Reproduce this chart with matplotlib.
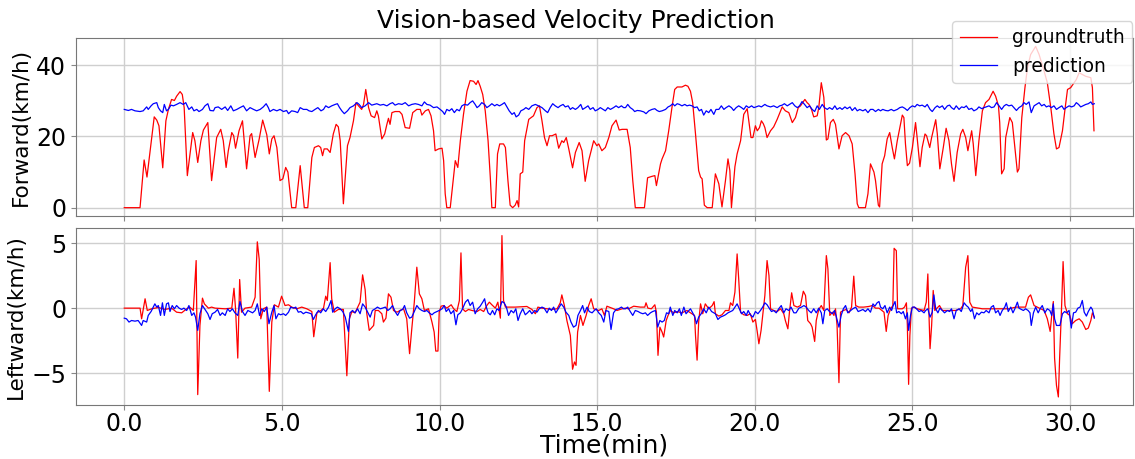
import numpy as np
import matplotlib
matplotlib.use('Agg')
import matplotlib.pyplot as plt
from matplotlib.ticker import FormatStrFormatter

# ---- forward velocity, groundtruth (time in min, km/h)
t_fwd_gt = [0.00, 0.50, 0.63, 0.72, 0.95, 1.03, 1.10, 1.22, 1.32, 1.40, 1.50, 1.59, 1.66, 1.77, 1.84, 1.90,
            2.00, 2.17, 2.24, 2.33, 2.43, 2.51, 2.65, 2.77, 2.93, 3.06, 3.14, 3.23, 3.30, 3.41, 3.47, 3.53,
            3.64, 3.75, 3.88, 3.99, 4.04, 4.15, 4.28, 4.39, 4.52, 4.60, 4.68, 4.75, 4.84, 4.94, 5.03, 5.12,
            5.19, 5.31, 5.44, 5.58, 5.71, 5.82, 5.95, 6.03, 6.16, 6.23, 6.29, 6.34, 6.44, 6.53, 6.63, 6.72,
            6.79, 6.85, 6.95, 7.08, 7.16, 7.27, 7.35, 7.43, 7.53, 7.59, 7.66, 7.75, 7.83, 7.94, 8.01, 8.06,
            8.17, 8.26, 8.33, 8.38, 8.43, 8.49, 8.59, 8.73, 8.81, 8.91, 9.05, 9.15, 9.28, 9.39, 9.44, 9.55,
            9.65, 9.73, 9.81, 9.86, 9.97, 10.08, 10.13, 10.18, 10.23, 10.34, 10.41, 10.50, 10.58, 10.66,
            10.76, 10.87, 10.97, 11.08, 11.16, 11.22, 11.29, 11.37, 11.45, 11.54, 11.61, 11.66, 11.77,
            11.84, 11.91, 12.03, 12.09, 12.17, 12.24, 12.32, 12.40, 12.46, 12.51, 12.56, 12.64, 12.70,
            12.83, 12.98, 13.09, 13.17, 13.25, 13.33, 13.41, 13.49, 13.57, 13.69, 13.78, 13.88, 13.94,
            14.02, 14.10, 14.22, 14.31, 14.43, 14.52, 14.62, 14.73, 14.89, 14.99, 15.05, 15.15, 15.26,
            15.37, 15.47, 15.60, 15.70, 15.79, 15.95, 16.05, 16.13, 16.21, 16.50, 16.60, 16.74, 16.83,
            16.88, 17.01, 17.06, 17.17, 17.27, 17.38, 17.46, 17.54, 17.69, 17.80, 17.88, 17.96, 18.03,
            18.12, 18.22, 18.28, 18.33, 18.40, 18.49, 18.65, 18.75, 18.86, 18.96, 19.07, 19.15, 19.21,
            19.26, 19.37, 19.44, 19.55, 19.65, 19.76, 19.81, 19.88, 19.94, 20.02, 20.08, 20.15, 20.21,
            20.27, 20.32, 20.39, 20.50, 20.60, 20.71, 20.87, 20.97, 21.08, 21.19, 21.29, 21.38, 21.45,
            21.59, 21.66, 21.72, 21.80, 21.87, 21.98, 22.03, 22.11, 22.19, 22.27, 22.32, 22.40, 22.49,
            22.56, 22.67, 22.77, 22.88, 22.99, 23.09, 23.18, 23.25, 23.30, 23.51, 23.59, 23.67, 23.78,
            23.83, 23.92, 23.96, 24.04, 24.12, 24.20, 24.28, 24.36, 24.43, 24.52, 24.59, 24.68, 24.73,
            24.78, 24.84, 24.91, 25.00, 25.10, 25.15, 25.24, 25.31, 25.40, 25.45, 25.55, 25.61, 25.74,
            25.79, 25.87, 25.98, 26.07, 26.16, 26.24, 26.32, 26.42, 26.53, 26.60, 26.69, 26.76, 26.88,
            26.93, 27.01, 27.11, 27.22, 27.32, 27.43, 27.56, 27.64, 27.73, 27.77, 27.83, 27.91, 27.96,
            28.09, 28.17, 28.26, 28.33, 28.38, 28.47, 28.57, 28.65, 28.75, 28.91, 29.02, 29.18, 29.28,
            29.39, 29.49, 29.57, 29.65, 29.76, 29.84, 29.92, 30.02, 30.13, 30.20, 30.29, 30.39, 30.50,
            30.66, 30.71, 30.76]
v_fwd_gt = [0, 0, 13.4, 8.6, 25.5, 24.6, 23.0, 11.2, 24.4, 27.6, 30.4, 30.1, 31.3, 32.6, 31.8, 28.1,
            9.0, 21.1, 18.8, 12.7, 18.8, 21.8, 23.9, 7.6, 19.7, 22.0, 18.8, 11.3, 16.0, 21.1, 20.2, 16.7,
            21.6, 24.4, 10.9, 20.2, 20.8, 14.1, 19.3, 24.6, 20.5, 15.1, 19.3, 20.2, 16.9, 7.6, 8.1, 11.3,
            10.0, 0, 0, 11.8, 0, 0, 14.1, 16.9, 17.4, 16.9, 14.6, 16.5, 16.5, 15.5, 20.7, 23.4,
            22.7, 18.8, 1.1, 17.4, 19.7, 24.4, 29.5, 28.6, 27.6, 29.0, 33.2, 28.1, 25.8, 25.3, 27.2, 25.8,
            19.3, 20.7, 23.4, 25.1, 23.4, 26.7, 27.0, 27.0, 26.2, 22.5, 22.3, 26.7, 27.6, 27.6, 26.0, 27.2,
            27.6, 25.8, 21.6, 16.0, 16.5, 16.7, 13.2, 3.9, 0, 0, 5.8, 13.2, 11.3, 18.8,
            26.2, 32.7, 35.7, 35.5, 34.6, 35.7, 34.1, 31.8, 27.2, 18.8, 8.6, 0, 0,
            15.1, 17.9, 17.9, 16.9, 7.6, 0.7, 0, 0.7, 2.0, 0.2, 9.5, 10.0, 18.8,
            24.8, 25.8, 28.1, 28.6, 24.4, 19.7, 17.4, 20.2, 20.2, 20.7, 16.7, 18.8, 18.3,
            19.7, 16.5, 11.2, 15.5, 18.3, 16.0, 7.4, 13.2, 18.8, 17.4, 17.9, 16.0, 16.9,
            19.7, 23.0, 24.6, 21.8, 22.0, 22.0, 16.9, 7.6, 0, 0, 8.4, 8.8, 9.0,
            6.2, 12.3, 13.7, 16.0, 21.6, 28.6, 33.2, 33.9, 33.9, 34.4, 34.1, 32.7, 29.5,
            20.7, 10.4, 8.6, 8.1, 0.7, 0, 0, 9.5, 6.7, 0.2, 7.6, 13.7, 10.4,
            0, 11.5, 15.1, 18.8, 26.2, 27.8, 24.4, 19.7, 19.7, 23.0, 21.6, 22.5, 24.4,
            23.6, 22.5, 19.7, 21.6, 22.7, 24.8, 28.3, 27.2, 26.7, 23.9, 25.3, 28.1, 28.6,
            30.4, 29.5, 29.0, 27.6, 25.5, 25.8, 28.1, 35.1, 31.0, 19.0, 19.3, 23.9, 24.8,
            23.4, 16.5, 20.2, 21.1, 20.2, 17.9, 9.5, 1.1, 0, 0, 3.9, 12.3, 10.0,
            7.6, 0.7, 0.2, 12.3, 14.6, 19.3, 21.1, 16.9, 13.7, 18.8, 22.0, 26.0, 25.3,
            17.9, 11.8, 12.5, 16.9, 23.9, 19.7, 11.5, 16.9, 20.7, 20.2, 16.9, 19.7, 24.7,
            20.7, 10.9, 16.9, 22.3, 18.8, 12.3, 7.4, 15.5, 20.7, 22.0, 19.7, 16.0, 21.6,
            17.9, 9.0, 18.8, 27.2, 29.5, 30.4, 32.7, 31.3, 28.6, 23.9, 9.5, 10.9, 19.7,
            25.3, 23.9, 16.0, 10.0, 10.9, 25.3, 33.7, 39.3, 43.0, 45.3, 43.0, 38.3, 35.1,
            28.1, 20.7, 16.5, 16.9, 21.6, 27.6, 33.2, 33.7, 35.1, 36.0, 37.9, 37.4, 36.9,
            36.5, 33.7, 21.6]

# ---- forward velocity, prediction
t_fwd_pr = [0.00, 0.13, 0.23, 0.34, 0.50, 0.60, 0.71, 0.76, 0.85, 0.92, 1.03, 1.08, 1.15, 1.22, 1.27, 1.34,
            1.40, 1.48, 1.56, 1.66, 1.77, 1.87, 1.95, 2.05, 2.14, 2.21, 2.30, 2.37, 2.48, 2.56, 2.65, 2.72,
            2.83, 2.88, 2.98, 3.09, 3.20, 3.28, 3.38, 3.46, 3.57, 3.67, 3.78, 3.88, 3.99, 4.10, 4.20, 4.31,
            4.41, 4.50, 4.57, 4.62, 4.73, 4.84, 4.94, 5.05, 5.15, 5.21, 5.31, 5.42, 5.50, 5.58, 5.68, 5.79,
            5.86, 5.95, 6.05, 6.14, 6.24, 6.32, 6.39, 6.48, 6.58, 6.69, 6.76, 6.83, 6.90, 6.98, 7.08, 7.16,
            7.27, 7.38, 7.45, 7.53, 7.64, 7.75, 7.85, 8.01, 8.12, 8.22, 8.33, 8.43, 8.51, 8.59, 8.70, 8.81,
            8.91, 9.02, 9.12, 9.23, 9.33, 9.44, 9.52, 9.60, 9.70, 9.81, 9.92, 10.02, 10.10, 10.16, 10.23,
            10.31, 10.39, 10.47, 10.55, 10.63, 10.71, 10.79, 10.89, 10.97, 11.05, 11.13, 11.19, 11.26,
            11.34, 11.43, 11.50, 11.58, 11.66, 11.75, 11.82, 11.90, 11.98, 12.06, 12.14, 12.21, 12.30,
            12.37, 12.43, 12.51, 12.58, 12.67, 12.74, 12.83, 12.93, 13.04, 13.14, 13.25, 13.36, 13.43,
            13.51, 13.59, 13.67, 13.76, 13.83, 13.92, 13.99, 14.08, 14.15, 14.22, 14.31, 14.39, 14.48,
            14.54, 14.63, 14.71, 14.78, 14.87, 14.94, 15.03, 15.10, 15.19, 15.26, 15.34, 15.42, 15.52,
            15.60, 15.68, 15.77, 15.84, 15.90, 15.97, 16.05, 16.13, 16.19, 16.27, 16.37, 16.48, 16.55,
            16.64, 16.74, 16.83, 16.90, 16.97, 17.06, 17.17, 17.25, 17.32, 17.40, 17.46, 17.54, 17.61,
            17.69, 17.78, 17.85, 17.93, 18.01, 18.09, 18.17, 18.24, 18.31, 18.38, 18.46, 18.54, 18.61,
            18.70, 18.77, 18.86, 18.94, 19.02, 19.09, 19.18, 19.26, 19.33, 19.41, 19.49, 19.58, 19.65,
            19.73, 19.81, 19.90, 19.97, 20.04, 20.13, 20.21, 20.32, 20.39, 20.50, 20.60, 20.71, 20.79,
            20.87, 20.94, 21.03, 21.10, 21.19, 21.27, 21.35, 21.42, 21.50, 21.58, 21.66, 21.74, 21.82,
            21.90, 21.98, 22.05, 22.14, 22.21, 22.30, 22.37, 22.46, 22.54, 22.61, 22.70, 22.77, 22.86,
            22.93, 23.02, 23.09, 23.18, 23.25, 23.33, 23.43, 23.51, 23.59, 23.67, 23.75, 23.83, 23.92,
            23.99, 24.06, 24.15, 24.23, 24.33, 24.41, 24.52, 24.60, 24.68, 24.76, 24.84, 24.92, 25.00,
            25.08, 25.15, 25.23, 25.31, 25.40, 25.47, 25.56, 25.63, 25.72, 25.79, 25.86, 25.95, 26.02,
            26.11, 26.18, 26.24, 26.32, 26.39, 26.48, 26.56, 26.64, 26.71, 26.79, 26.88, 26.95, 27.04,
            27.11, 27.20, 27.27, 27.34, 27.43, 27.51, 27.59, 27.67, 27.75, 27.83, 27.91, 27.98, 28.06,
            28.15, 28.22, 28.30, 28.38, 28.47, 28.54, 28.61, 28.70, 28.77, 28.86, 28.93, 29.02, 29.10,
            29.18, 29.25, 29.33, 29.41, 29.49, 29.57, 29.65, 29.74, 29.81, 29.88, 29.97, 30.05, 30.13,
            30.20, 30.27, 30.34, 30.41, 30.50, 30.58, 30.66, 30.71, 30.77]
v_fwd_pr = [27.6, 27.3, 27.6, 27.2, 27.0, 27.2, 28.3, 27.6, 28.6, 29.2, 29.5, 28.1, 27.2, 26.7, 29.0, 27.2,
            27.6, 28.8, 28.6, 29.0, 29.5, 29.0, 29.5, 27.6, 28.3, 27.2, 27.6, 27.0, 27.6, 28.6, 29.2, 27.3,
            27.2, 28.1, 28.3, 27.6, 28.3, 27.3, 28.6, 27.2, 27.6, 28.1, 28.6, 27.2, 28.1, 27.6, 27.2, 27.6,
            28.3, 29.2, 28.1, 27.0, 27.6, 27.2, 27.6, 27.0, 27.3, 26.4, 27.2, 27.0, 26.7, 28.1, 27.6, 27.6,
            27.2, 27.0, 27.6, 28.1, 27.2, 27.6, 28.6, 28.1, 28.6, 29.0, 29.2, 28.1, 27.2, 26.4, 27.2, 28.1,
            28.6, 29.5, 29.0, 28.1, 28.6, 29.5, 28.8, 29.2, 28.8, 29.0, 28.6, 29.2, 29.5, 28.8, 29.2, 29.0,
            29.5, 28.6, 29.0, 29.2, 29.0, 28.6, 29.7, 29.0, 28.8, 28.1, 28.3, 27.6, 27.0, 26.2, 27.6,
            27.2, 27.8, 26.7, 27.6, 27.2, 28.6, 29.0, 28.8, 29.5, 30.0, 29.0, 28.1, 28.6,
            29.5, 29.0, 28.1, 28.6, 29.2, 28.6, 29.0, 28.6, 29.0, 29.5, 28.3, 27.2, 26.2,
            26.7, 25.5, 26.0, 27.2, 27.6, 28.1, 27.6, 28.6, 29.0, 28.6, 28.1, 27.2, 26.7,
            28.1, 29.2, 28.6, 28.1, 28.6, 29.0, 28.3, 28.6, 27.6, 28.1, 27.6, 28.1, 29.0,
            27.6, 28.1, 28.6, 27.6, 28.1, 27.2, 27.6, 28.1, 27.6, 27.2, 28.1, 27.6, 28.1,
            28.6, 28.1, 28.6, 28.1, 28.1, 29.0, 28.1, 27.6, 27.0, 27.3, 27.2, 26.9, 26.4,
            27.2, 27.6, 27.8, 27.3, 27.0, 27.2, 27.6, 28.3, 28.6, 29.2, 28.6, 29.2, 29.0,
            28.6, 29.0, 28.6, 28.8, 28.6, 28.1, 28.3, 27.2, 27.6, 26.0, 27.2, 26.7, 27.6,
            26.2, 27.6, 27.6, 28.6, 27.6, 28.1, 28.6, 28.1, 27.3, 28.1, 28.6, 28.1, 27.6,
            28.6, 28.1, 28.6, 28.1, 28.3, 28.6, 28.3, 29.0, 28.6, 28.3, 28.6, 28.1, 28.6,
            28.8, 29.2, 28.6, 29.0, 29.5, 28.6, 28.1, 28.6, 29.8, 29.0, 28.1, 28.6, 27.6,
            27.0, 28.6, 27.6, 29.0, 28.1, 27.6, 28.1, 27.6, 28.6, 27.6, 28.1, 27.6, 28.3,
            27.8, 28.3, 27.3, 28.1, 27.2, 27.6, 27.2, 27.6, 26.7, 27.6, 27.6, 27.0, 27.6,
            27.2, 27.6, 27.3, 27.2, 27.6, 27.2, 27.6, 28.1, 28.3, 27.9, 27.3, 28.1, 28.6,
            28.3, 29.0, 28.6, 28.8, 28.3, 29.0, 27.6, 27.0, 28.1, 28.6, 28.1, 28.6, 27.6,
            28.6, 28.8, 28.1, 27.6, 28.6, 27.6, 28.3, 28.1, 28.6, 27.6, 27.9, 27.2, 27.6,
            28.3, 27.8, 28.1, 28.3, 28.6, 28.1, 28.3, 29.5, 28.6, 27.6, 28.6, 29.0, 28.6,
            28.8, 28.1, 27.3, 28.1, 28.6, 29.5, 29.0, 29.7, 26.7, 28.6, 29.0, 29.5, 28.6,
            29.0, 28.3, 28.6, 28.1, 28.6, 27.6, 28.1, 28.6, 27.6, 28.1, 28.6, 28.3, 28.6,
            29.5, 29.0, 28.3, 28.6, 29.0, 29.2, 29.7, 29.0, 29.2]

# ---- leftward velocity, groundtruth
t_lat_gt = [0.00, 0.50, 0.55, 0.66, 0.73, 0.87, 1.08, 1.29, 1.50, 1.66, 1.82, 1.98, 2.08, 2.19, 2.28, 2.33,
            2.40, 2.48, 2.54, 2.67, 2.77, 2.88, 3.20, 3.41, 3.48, 3.53, 3.60, 3.66, 3.72, 3.83, 4.04, 4.15,
            4.22, 4.28, 4.33, 4.41, 4.52, 4.60, 4.68, 4.76, 4.89, 4.99, 5.10, 5.21, 5.31, 5.47, 5.63, 5.79,
            5.95, 6.01, 6.11, 6.24, 6.32, 6.39, 6.44, 6.53, 6.58, 6.66, 6.79, 6.95, 7.06, 7.14, 7.22, 7.32,
            7.48, 7.56, 7.64, 7.69, 7.77, 7.91, 7.96, 8.06, 8.17, 8.22, 8.30, 8.38, 8.46, 8.54, 8.65, 8.75,
            8.86, 8.96, 9.05, 9.12, 9.20, 9.28, 9.36, 9.44, 9.52, 9.65, 9.76, 9.83, 9.88, 9.95, 9.99, 10.05,
            10.13, 10.23, 10.37, 10.45, 10.55, 10.63, 10.68, 10.73, 10.82, 10.92, 11.03, 11.19, 11.29,
            11.40, 11.50, 11.58, 11.66, 11.77, 11.85, 11.93, 11.98, 12.03, 12.09, 12.40, 12.77, 12.93,
            13.04, 13.12, 13.25, 13.57, 13.73, 13.83, 13.88, 13.96, 14.04, 14.15, 14.22, 14.28, 14.33,
            14.38, 14.47, 14.55, 14.65, 14.73, 14.81, 14.89, 15.05, 15.15, 15.23, 15.31, 15.52, 15.63,
            15.79, 15.90, 16.00, 16.16, 16.37, 16.51, 16.55, 16.61, 16.72, 16.83, 16.88, 16.93, 16.99,
            17.06, 17.11, 17.19, 17.25, 17.32, 17.43, 17.54, 17.69, 17.85, 17.96, 18.09, 18.12, 18.17,
            18.22, 18.28, 18.35, 18.43, 18.54, 18.65, 18.71, 18.75, 18.86, 18.96, 19.07, 19.18, 19.23,
            19.30, 19.37, 19.44, 19.49, 19.55, 19.65, 19.76, 19.86, 19.94, 20.02, 20.08, 20.13, 20.20,
            20.27, 20.32, 20.39, 20.45, 20.50, 20.60, 20.71, 20.82, 20.92, 20.97, 21.05, 21.10, 21.17,
            21.24, 21.35, 21.45, 21.54, 21.61, 21.68, 21.77, 21.82, 21.90, 21.95, 22.03, 22.11, 22.19,
            22.27, 22.32, 22.38, 22.46, 22.51, 22.56, 22.61, 22.67, 22.72, 22.81, 22.90, 22.99, 23.07,
            23.14, 23.20, 23.30, 23.46, 23.62, 23.73, 23.83, 23.94, 24.10, 24.17, 24.23, 24.31, 24.38,
            24.42, 24.49, 24.53, 24.68, 24.75, 24.81, 24.84, 24.88, 24.92, 24.97, 25.05, 25.15, 25.37,
            25.44, 25.49, 25.52, 25.56, 25.61, 25.66, 25.71, 25.86, 25.95, 26.21, 26.37, 26.53, 26.60,
            26.69, 26.76, 26.82, 26.90, 27.22, 27.64, 28.06, 28.28, 28.59, 28.68, 28.75, 28.86, 29.07,
            29.18, 29.28, 29.37, 29.42, 29.47, 29.51, 29.57, 29.63, 29.67, 29.73, 29.78, 29.84, 29.92,
            29.99, 30.07, 30.18, 30.29, 30.39, 30.50, 30.58, 30.66, 30.71, 30.77]
v_lat_gt = [0, 0, -0.82, 0.72, -0.18, -0.05, 0.05, -0.1, 0, -0.31, -0.36, -0.05, 0.08, -0.18, 3.66, -6.65,
            -1.33, 0.77, 0.33, 0, 0.08, 0, -0.05, 0, 1.53, -0.05, -3.84, 2.2, -0.31, 0, 0.08, 0.84,
            5.1, 3.76, -0.82, -0.05, 0.08, -6.4, -1.07, 0.26, 0.08, 0.92, 0.2, 0.26, 0.08, -0.05, 0.08, -0.05,
            -0.26, -2.2, -0.36, -0.18, 0, 0.92, 0.59, 3.5, 0.72, -0.31, -0.1, -0.1, -5.2, -0.82, -0.26, -0.36,
            0.46, 2.56, 1.43, -0.36, -1.71, -1.33, -0.18, -0.18, -0.43, -1.07, -0.77, 1.1, 0.84, -0.18, -0.31, -0.18,
            -0.05, -0.82, -3.5, -1.59, 0.46, 3.15, 1.10, 0.72, -0.18, -0.05, -1.07, -1.84, -3.3, -3.3, -0.31, 0.15,
            0.2, 0, 0.26, -0.05, -0.26, 0.59, 4.25, -0.05, -0.26, -0.1, -0.18, -0.26, -0.1,
            -0.26, 0.2, 0.46, 0.26, 0, 0.46, -0.77, 5.58, 0.59, 0.08, 0.08, 0.13, -0.1,
            -0.43, 0.08, 0, -0.1, -0.05, 0.41, 1.02, 0.2, -0.95, -2.1, -4.7, -4.14, -4.4,
            -1.84, -0.56, -1.33, -0.56, 0.2, 0.72, -0.05, -0.18, -0.05, -0.56, 0.15, -0.05, -0.18,
            -0.05, 0, -0.05, 0.15, 0.08, 0.08, 0.41, 0, -0.05, 0.26, -0.31, -3.63, -1.46,
            -1.84, -2.22, -0.95, -0.56, -0.18, -0.36, -0.26, -0.36, -0.18, -0.36, -0.56, -2.1, -4.0,
            -1.07, 0.33, -0.43, 0.33, -0.05, 0.2, 0.5, -0.43, -0.61, -0.51, -0.18, -0.18, 0.41,
            0.2, 1.23, 4.17, 2.25, -0.31, -0.51, -0.56, -0.43, -1.07, -0.87, -1.84, -2.74, -1.71,
            -0.18, 0.97, 3.66, 2.51, -0.05, -0.18, -0.26, -0.05, -0.43, -0.95, -1.59, -0.31, 1.18,
            0.2, 0.08, 0.2, 1.3, 0.97, -0.95, -1.2, -1.46, -2.56, -0.95, -0.1, 0.2, -0.18,
            4.04, 3.02, -0.56, -0.31, -0.56, -0.05, -1.33, -5.73, -0.31, -0.18, -0.1, -0.36, 0.08,
            2.46, 0.2, 0.08, 0.08, 0.13, 0.2, 0, 0, -0.31, -1.79, -0.56, -0.05, 0.2,
            4.6, 4.42, -0.05, -0.05, 0.08, 0.41, -1.33, -5.86, -2.10, 0, 0.08, -0.05, -0.18,
            0.46, 2.63, -0.05, -3.12, -1.33, 1.36, -0.18, 0.2, -0.18, -0.18, -0.18, -0.05, 0.2,
            3.15, 4.04, 0.46, 0.08, -0.05, -0.05, -0.05, 0.08, 0.08, 0.84, 1.02, 0.2, -0.05,
            -0.18, -0.82, -1.79, -0.56, 0.51, -3.84, -5.93, -6.83, -3.84, -0.05, 3.58, 0.2, -0.43,
            -0.56, -1.2, -0.95, -0.82, -1.07, -1.64, -1.53, -0.95, -0.36, -0.69]

# ---- leftward velocity, prediction
t_lat_pr = [0.00, 0.07, 0.15, 0.23, 0.34, 0.44, 0.55, 0.60, 0.71, 0.76, 0.85, 0.92, 0.97, 1.03, 1.08, 1.15,
            1.21, 1.27, 1.34, 1.40, 1.45, 1.52, 1.59, 1.66, 1.74, 1.82, 1.89, 1.98, 2.05, 2.14, 2.21, 2.26,
            2.33, 2.40, 2.48, 2.56, 2.65, 2.72, 2.79, 2.88, 2.96, 3.04, 3.11, 3.20, 3.28, 3.35, 3.43, 3.51,
            3.60, 3.67, 3.75, 3.83, 3.92, 3.99, 4.07, 4.15, 4.22, 4.29, 4.36, 4.44, 4.52, 4.59, 4.68, 4.75,
            4.81, 4.89, 4.96, 5.05, 5.12, 5.21, 5.28, 5.37, 5.44, 5.52, 5.60, 5.68, 5.76, 5.84, 5.93, 6.00,
            6.07, 6.16, 6.23, 6.31, 6.39, 6.48, 6.56, 6.61, 6.69, 6.76, 6.85, 6.93, 7.01, 7.11, 7.16, 7.24,
            7.32, 7.40, 7.48, 7.56, 7.64, 7.71, 7.80, 7.87, 7.96, 8.03, 8.12, 8.19, 8.28, 8.36, 8.43, 8.51,
            8.59, 8.67, 8.75, 8.83, 8.89, 8.96, 9.05, 9.12, 9.20, 9.28, 9.36, 9.44, 9.52, 9.60, 9.67, 9.76,
            9.83, 9.92, 9.99, 10.08, 10.15, 10.21, 10.29, 10.36, 10.45, 10.52, 10.58, 10.66, 10.73, 10.82,
            10.90, 10.97, 11.05, 11.13, 11.21, 11.29, 11.37, 11.43, 11.47, 11.54, 11.61, 11.68, 11.75,
            11.82, 11.89, 11.98, 12.05, 12.12, 12.19, 12.27, 12.35, 12.42, 12.49, 12.56, 12.64, 12.72,
            12.79, 12.86, 12.93, 13.02, 13.09, 13.16, 13.25, 13.32, 13.41, 13.48, 13.55, 13.62, 13.69,
            13.78, 13.86, 13.94, 14.01, 14.10, 14.17, 14.25, 14.33, 14.39, 14.47, 14.54, 14.60, 14.68,
            14.75, 14.84, 14.91, 14.97, 15.05, 15.13, 15.21, 15.28, 15.37, 15.44, 15.52, 15.60, 15.68,
            15.77, 15.84, 15.90, 15.97, 16.05, 16.13, 16.21, 16.30, 16.37, 16.45, 16.53, 16.60, 16.69,
            16.76, 16.85, 16.92, 16.99, 17.06, 17.13, 17.20, 17.27, 17.32, 17.40, 17.46, 17.54, 17.61,
            17.67, 17.75, 17.82, 17.88, 17.96, 18.03, 18.10, 18.15, 18.22, 18.30, 18.38, 18.46, 18.54,
            18.63, 18.70, 18.75, 18.83, 18.91, 18.99, 19.07, 19.15, 19.23, 19.30, 19.37, 19.44, 19.51,
            19.58, 19.65, 19.73, 19.79, 19.86, 19.94, 20.02, 20.10, 20.18, 20.25, 20.32, 20.39, 20.47,
            20.53, 20.60, 20.68, 20.76, 20.84, 20.92, 20.99, 21.08, 21.15, 21.24, 21.31, 21.40, 21.48,
            21.56, 21.63, 21.71, 21.79, 21.87, 21.95, 22.03, 22.11, 22.16, 22.22, 22.30, 22.37, 22.46,
            22.53, 22.59, 22.67, 22.74, 22.81, 22.88, 22.95, 23.04, 23.11, 23.20, 23.28, 23.36, 23.43,
            23.51, 23.59, 23.67, 23.75, 23.81, 23.88, 23.94, 23.99, 24.06, 24.13, 24.20, 24.28, 24.34,
            24.39, 24.45, 24.50, 24.57, 24.65, 24.71, 24.78, 24.84, 24.88, 24.94, 25.00, 25.07, 25.13,
            25.21, 25.28, 25.37, 25.42, 25.49, 25.56, 25.63, 25.68, 25.74, 25.81, 25.87, 25.95, 26.02,
            26.11, 26.18, 26.24, 26.32, 26.39, 26.48, 26.55, 26.64, 26.71, 26.77, 26.85, 26.90, 26.97,
            27.04, 27.11, 27.19, 27.27, 27.34, 27.43, 27.50, 27.57, 27.64, 27.72, 27.78, 27.85, 27.93,
            27.98, 28.04, 28.12, 28.19, 28.25, 28.33, 28.38, 28.46, 28.52, 28.59, 28.67, 28.73, 28.77,
            28.84, 28.91, 28.99, 29.05, 29.12, 29.20, 29.28, 29.36, 29.42, 29.47, 29.51, 29.57, 29.63,
            29.68, 29.76, 29.83, 29.89, 29.97, 30.04, 30.11, 30.18, 30.25, 30.32, 30.39, 30.45, 30.52,
            30.58, 30.66, 30.71, 30.77]
v_lat_pr = [-0.77, -0.82, -1.07, -0.95, -1.0, -0.95, -1.33, -0.95, -1.07, -0.56, -0.26, 0.08, 0.33, 0.08, 0.2, -0.56,
            0.41, -0.56, 0.33, 0.41, -0.26, 0.2, -0.05, 0.2, 0, -0.1, 0, -0.18, 0.2, -0.56, -0.36, -0.69,
            -1.71, -0.43, 0.2, -0.1, -0.43, -0.87, -0.43, -0.31, -0.1, -0.56, -0.36, -0.56, -0.05, -0.26, -0.05, -0.36,
            -0.56, 0.51, -0.26, -0.56, -0.18, -0.26, -0.36, -0.18, 0.33, -0.56, -0.05, -0.26, 0.08, -1.2, -0.31, 0.2,
            -0.82, -0.43, -0.51, -0.43, -0.56, -0.31, 0.08, 0, 0.08, -0.31, -0.26, -0.43, -0.31, -0.36, -0.43, -0.87,
            -0.51, -0.18, -0.36, -0.05, -0.26, 0.08, 0.59, -0.31, -0.05, 0.08, -0.05, -0.26, -0.69, -1.79, -0.36, -0.18,
            -0.36, -0.05, -0.43, 0.33, 0.08, -0.26, -0.69, -0.18, -0.05, 0.08, -0.05, 0, 0.08, -0.18, -0.05, 0.2,
            -0.26, -0.56, -0.18, -0.1, 0.2, -0.36, -0.77, -0.69, -0.26, 0.2, -0.05, -0.18, -0.26, -0.18, -0.36, -0.51,
            -0.36, -0.26, -0.18, -0.05, 0.2, -0.26, -0.05, -0.43, -0.18, -1.28, -0.51, -0.36, -0.05, 0.46,
            0.66, 0.2, 0.46, -0.43, -0.05, 0.15, 0.46, 0.72, 0.2, -0.36, -0.51, -0.18, -0.51,
            -0.05, -0.18, 0.51, 0.41, 0.08, -0.56, -0.18, -0.36, -0.05, -0.95, -0.43, -0.05, -0.51,
            -0.36, -0.18, -0.43, -0.18, -0.31, -0.05, 0.08, 0, -0.36, 0, -0.18, 0.08, -0.36,
            0, 0.33, 0.08, -0.31, -0.56, -1.07, -1.46, -1.33, -0.56, -0.18, 0.2, -0.36, 0.08,
            -0.26, -0.36, -0.18, -0.05, -0.36, -0.56, -1.07, -0.18, -0.26, -1.64, -0.36, -0.1, -0.05,
            0.08, -0.05, -0.05, 0.08, -0.26, -0.56, -0.18, -0.26, -0.36, -0.43, -0.36, -0.56, -0.36,
            -0.26, -0.18, -1.46, -0.95, -1.07, -0.95, -0.36, -0.43, 0.08, -0.56, -0.18, -0.36, -0.05,
            -0.56, 0.08, -0.43, -0.26, -0.05, -0.36, -0.69, -1.2, -0.69, -0.43, -0.05, -0.36, 0.08,
            -0.26, -0.36, -0.43, -0.87, -0.69, -0.61, -0.51, -0.36, -0.26, -0.18, 0.08, 0.33, -0.05,
            -0.43, -0.26, -0.56, -0.18, -0.51, -0.69, -0.26, -0.43, -0.18, 0.08, 0.41, 0.26, -0.05,
            -0.26, -0.18, -0.36, -0.05, 0.2, -0.36, -0.05, -0.18, 0.08, -0.36, -0.36, 0, 0.08,
            0.2, 0.08, -0.18, -0.36, -0.05, -0.36, 0, -0.36, -1.2, -0.18, -0.05, -0.26, -0.43,
            -0.18, -0.69, -1.46, -0.56, -0.05, 0.2, -0.36, -0.18, -0.05, 0.08, -0.26, -0.18, -0.1,
            -0.26, -0.05, -0.31, 0.33, 0.15, 0.41, 0.51, 0.08, -0.05, 0.2, -0.36, 0.08, -0.18,
            0.2, 0.51, -0.36, -0.26, -0.43, -0.26, -0.82, -0.36, -1.71, -0.56, 0.08, 0.08, -0.05,
            -0.26, -0.18, -0.36, -0.18, -0.05, -0.69, -0.31, 1.02, -0.05, -0.36, 0, -0.18, -0.36,
            -0.18, -0.26, -0.05, -0.82, -0.18, -0.05, -0.26, 0.41, 0.2, 0.08, -0.26, -0.05, -0.82,
            -0.36, -0.51, -0.31, -0.36, -0.18, -0.36, 0.08, 0.2, -0.36, -0.18, -0.56, -0.18, 0.08,
            0.41, -0.26, 0.08, -0.36, -0.05, 0.46, 0, -0.1, -0.18, -0.05, -0.18, -0.36, -1.33,
            -0.36, 0.08, -0.36, -0.05, 0.2, -0.36, -0.05, -0.18, -0.56, 0.33, -0.82, -1.33, -1.33,
            -1.33, -0.43, -0.26, -0.36, -0.18, -1.53, -0.36, -0.31, 0, 0.08, 0.59, -0.31, -0.61,
            -0.26, 0.08, -0.1, -0.77]

fig = plt.figure(figsize=(11.35, 4.59), dpi=100)
ax1 = fig.add_axes([0.0670, 0.5300, 0.9313, 0.3865])
ax2 = fig.add_axes([0.0670, 0.1176, 0.9313, 0.3867], sharex=ax1)

ax1.plot(t_fwd_gt, v_fwd_gt, color='r', lw=0.9, label='groundtruth')
ax1.plot(t_fwd_pr, v_fwd_pr, color='b', lw=0.9, label='prediction')
ax2.plot(t_lat_gt, v_lat_gt, color='r', lw=0.9)
ax2.plot(t_lat_pr, v_lat_pr, color='b', lw=0.9)

for ax in (ax1, ax2):
    ax.grid(True, color='#cfcfcf', lw=1.0)
    ax.tick_params(labelsize=17, color='#888888')
    for s in ax.spines.values():
        s.set_color('#777777')
ax2.tick_params(axis='x', pad=1.5)

ax1.set_xlim(-1.53, 32.0)
ax1.set_yticks([0, 20, 40])
ax2.set_yticks([-5, 0, 5])
ax2.set_xticks([0, 5, 10, 15, 20, 25, 30])
ax2.xaxis.set_major_formatter(FormatStrFormatter('%.1f'))
plt.setp(ax1.get_xticklabels(), visible=False)

ax1.set_ylabel('Forward(km/h)', fontsize=15.5)
ax2.set_ylabel('Leftward(km/h)', fontsize=15.5)
ax2.set_xlabel('Time(min)', fontsize=18)
ax2.xaxis.set_label_coords(0.5, -0.163)
fig.text(0.507, 0.955, 'Vision-based Velocity Prediction', ha='center', va='center', fontsize=18)

fig.legend(loc='upper right', bbox_to_anchor=(1.006, 0.975), fontsize=13.5)

fig.savefig('out.png', dpi=100)
